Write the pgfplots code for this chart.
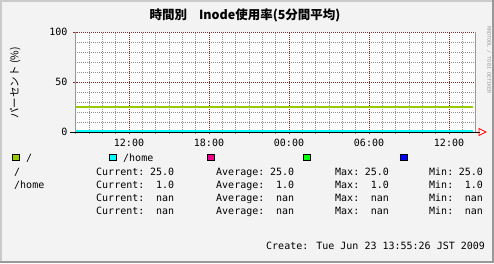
\documentclass[border=0pt]{standalone}
\usepackage{fontspec}
\usepackage{pgfplots}
\pgfplotsset{compat=1.18}
\setmainfont{DejaVu Sans Mono}
\newfontfamily\mono{DejaVu Sans Mono}
\newfontfamily\cjk{Noto Sans CJK JP}
\definecolor{bg}{HTML}{F3F3F3}
\definecolor{shadea}{HTML}{CBCBCB}
\definecolor{shadeb}{HTML}{999999}
\definecolor{gridc}{HTML}{909090}
\definecolor{mgrid}{HTML}{8B2A2A}
\definecolor{rootc}{HTML}{99CC00}
\definecolor{homec}{HTML}{00FFFF}
\newcommand{\tf}{\mono\fontsize{10bp}{12bp}\selectfont}
\begin{document}
\begin{tikzpicture}[x=1bp,y=1bp]
\useasboundingbox (0,0) rectangle (494,263);
\fill[bg] (0,0) rectangle (494,263);
\fill[shadea] (0,0) rectangle (2,263);
\fill[shadea] (0,261) rectangle (494,263);
\fill[shadeb] (492,0) rectangle (494,263);
\fill[shadeb] (0,0) rectangle (494,2);
\begin{axis}[
  at={(75bp,131bp)}, anchor=south west,
  width=400bp, height=100bp, scale only axis,
  xmin=-4.05, xmax=25.95, ymin=0, ymax=100,
  axis background/.style={fill=white},
  axis line style={draw=none},
  xtick={0,6,12,18,24},
  xticklabels={12:00,18:00,00:00,06:00,12:00},
  minor xtick={-4,-3,-2,-1,1,2,3,4,5,7,8,9,10,11,13,14,15,16,17,19,20,21,22,23,25},
  ytick={0,50,100},
  extra y ticks={10,20,30,40,60,70,80,90},
  extra y tick labels={},
  extra y tick style={major tick length=0pt, grid=major,
     major grid style={draw=gridc, dash pattern=on 1bp off 1bp, line width=0.9bp}},
  grid=both,
  major grid style={draw=mgrid, dash pattern=on 1bp off 1bp, line width=0.9bp},
  minor grid style={draw=gridc, dash pattern=on 1bp off 1bp, line width=0.9bp},
  xtick pos=bottom, ytick pos=left,
  tick align=center,
  major tick length=4bp, minor tick length=3bp,
  major tick style={draw=mgrid, line width=0.8bp},
  minor tick style={draw=gridc, line width=0.8bp},
  /pgf/number format/assume math mode=true,
  xticklabel style={font=\tf, text=black, yshift=-2bp},
  yticklabel style={font=\tf, text=black, xshift=-2bp},
  clip=true,
]
\addplot[rootc, line width=2bp] coordinates {(-4.05,25) (25.8,25)};
\addplot[homec, line width=2bp] coordinates {(-4.05,1) (25.8,1)};
\end{axis}
\draw[color=shadeb, line width=1bp] (75,131) -- (75,231);
\draw[color=shadeb, line width=1bp] (475,131) -- (475,231);
\draw[black, line width=1bp] (70,131) -- (480,131);
\draw[red, line width=0.8bp] (479,134.5) -- (486,131) -- (479,127.5) -- cycle;
% title and labels
\node[font=\cjk\bfseries\fontsize{12.5bp}{14bp}\selectfont, anchor=center] at (245,248) {時間別\hspace{12bp}Inode使用率(5分間平均)};
\node[font=\cjk\fontsize{10.5bp}{12bp}\selectfont, rotate=90, anchor=center] at (15,180) {パーセント (\%)};
\node[font=\mono\fontsize{5bp}{6bp}\selectfont, text=shadeb, rotate=-90, anchor=center] at (489,203) {RRDTOOL / TOBI OETIKER};
% legend boxes
\filldraw[fill=rootc, draw=black, line width=0.8bp] (12.5,102.5) rectangle (19.5,108.5);
\filldraw[fill=homec, draw=black, line width=0.8bp] (109.5,102.5) rectangle (116.5,108.5);
\filldraw[fill=magenta, draw=black, line width=0.8bp] (207.5,102.5) rectangle (214.5,108.5);
\filldraw[fill=green, draw=black, line width=0.8bp] (303.5,102.5) rectangle (310.5,108.5);
\filldraw[fill=blue, draw=black, line width=0.8bp] (400.5,102.5) rectangle (407.5,108.5);
\begin{scope}[every node/.style={font=\tf, inner sep=0pt, text=black}]
\node[anchor=base west] at (26,102) {/};
\node[anchor=base west] at (123,102) {/home};
\node[anchor=base west] at (14,88) {/};
\node[anchor=base west] at (14,75) {/home};
\foreach \yy/\v in {88/25.0,75/1.0,62/nan,49/nan}{
  \node[anchor=base west] at (96,\yy) {Current:};
  \node[anchor=base east] at (174.3,\yy) {\v};
  \node[anchor=base west] at (216,\yy) {Average:};
  \node[anchor=base east] at (294.3,\yy) {\v};
  \node[anchor=base west] at (335,\yy) {Max:};
  \node[anchor=base east] at (389.2,\yy) {\v};
  \node[anchor=base west] at (429,\yy) {Min:};
  \node[anchor=base east] at (483.2,\yy) {\v};
}
\node[anchor=base west] at (266,14) {Create: Tue Jun 23 13:55:26 JST 2009};
\end{scope}
\end{tikzpicture}
\end{document}
